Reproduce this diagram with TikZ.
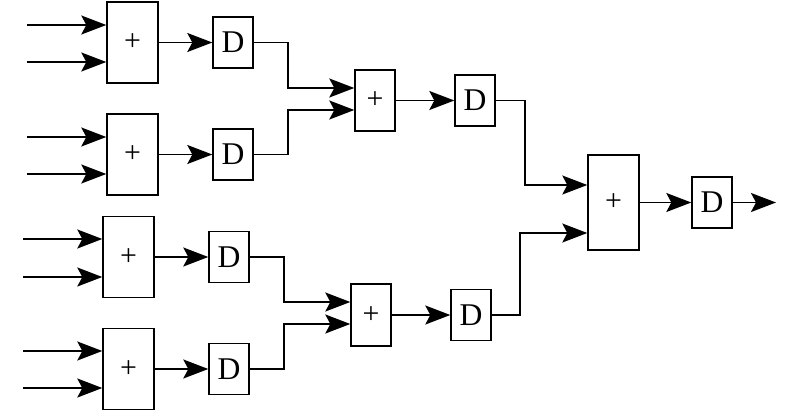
\documentclass[tikz,border=0pt]{standalone}
\usepackage{fontspec}
\setmainfont{Liberation Serif}
\usetikzlibrary{arrows.meta}

\begin{document}
\begin{tikzpicture}[x=0.02cm,y=-0.02cm,line width=1pt,
  >={Stealth[length=5mm,width=3.8mm,inset=1mm]},
  adder/.style={draw,line width=0.8pt,inner sep=0pt,minimum width=1.02cm,minimum height=1.62cm,font=\fontsize{17}{17}\selectfont},
  delay/.style={draw,line width=0.8pt,inner sep=0pt,minimum width=0.8cm,minimum height=1.02cm,font=\fontsize{18}{18}\selectfont}]
  \useasboundingbox (0,0) rectangle (800,412);
  % first stage
  \node[adder] (a1) at (132.5,42.5) {+};
  \node[adder] (a2) at (132.5,154.5) {+};
  \node[adder] (a3) at (128.5,257) {+};
  \node[adder] (a4) at (128.5,369) {+};
  \node[delay] (d1) at (233,42.5) {D};
  \node[delay] (d2) at (233,154.5) {D};
  \node[delay] (d3) at (229,257) {D};
  \node[delay] (d4) at (229,369) {D};
  % second stage
  \node[adder,minimum width=0.8cm,minimum height=1.22cm] (aa) at (375,100.5) {+};
  \node[adder,minimum width=0.8cm,minimum height=1.24cm] (ab) at (371,315) {+};
  \node[delay] (da) at (475,100.5) {D};
  \node[delay] (db) at (471,315) {D};
  % last stage
  \node[adder,minimum height=1.9cm] (af) at (613.5,202.5) {+};
  \node[delay] (df) at (712,202.5) {D};
  \coordinate (out) at (776,202.5);
  % inputs
  \coordinate (i1) at (27,25);  \coordinate (i2) at (27,62);
  \coordinate (i3) at (27,137); \coordinate (i4) at (27,174);
  \coordinate (i5) at (23,239); \coordinate (i6) at (23,277);
  \coordinate (i7) at (23,351); \coordinate (i8) at (23,388);
  \draw[->] (i1) -- (i1 -| a1.west);
  \draw[->] (i2) -- (i2 -| a1.west);
  \draw[->] (i3) -- (i3 -| a2.west);
  \draw[->] (i4) -- (i4 -| a2.west);
  \draw[->] (i5) -- (i5 -| a3.west);
  \draw[->] (i6) -- (i6 -| a3.west);
  \draw[->] (i7) -- (i7 -| a4.west);
  \draw[->] (i8) -- (i8 -| a4.west);
  \draw[->] (a1) -- (d1);
  \draw[->] (a2) -- (d2);
  \draw[->] (a3) -- (d3);
  \draw[->] (a4) -- (d4);
  % joints
  \coordinate (j1) at (288,88);  \coordinate (j2) at (288,110);
  \coordinate (j3) at (284,302); \coordinate (j4) at (284,324);
  \coordinate (j5) at (525,185); \coordinate (j6) at (520,233);
  \draw[->] (d1.east) -| (j1) -- (j1 -| aa.west);
  \draw[->] (d2.east) -| (j2) -- (j2 -| aa.west);
  \draw[->] (d3.east) -| (j3) -- (j3 -| ab.west);
  \draw[->] (d4.east) -| (j4) -- (j4 -| ab.west);
  \draw[->] (aa) -- (da);
  \draw[->] (ab) -- (db);
  \draw[->] (da.east) -| (j5) -- (j5 -| af.west);
  \draw[->] (db.east) -| (j6) -- (j6 -| af.west);
  \draw[->] (af) -- (df);
  \draw[->] (df) -- (out);
\end{tikzpicture}
\end{document}
